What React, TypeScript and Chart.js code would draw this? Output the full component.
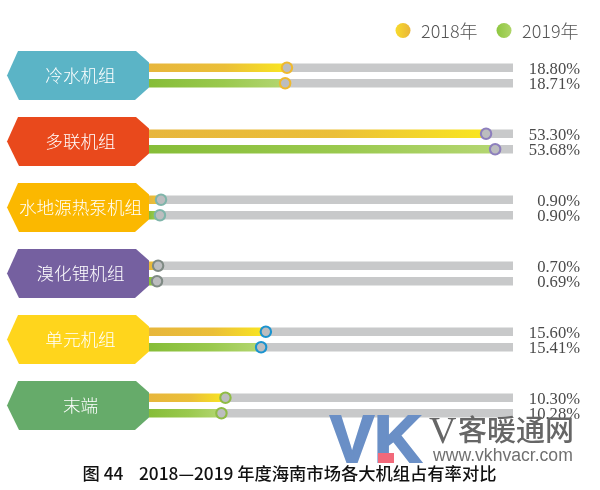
import React, { useEffect, useRef } from "react";
import { Chart, registerables } from "chart.js";

Chart.register(...registerables);

const categories = ["冷水机组", "多联机组", "水地源热泵机组", "溴化锂机组", "单元机组", "末端"];
const labels2018 = ["18.80%", "53.30%", "0.90%", "0.70%", "15.60%", "10.30%"];
const labels2019 = ["18.71%", "53.68%", "0.90%", "0.69%", "15.41%", "10.28%"];
// The reference's bars are not proportional to their printed labels, so the
// bar lengths are read off the picture as a share of the grey track.
const track2018 = [37.9, 92.6, 3.3, 2.5, 32.1, 21.0];
const track2019 = [37.4, 95.1, 3.0, 2.2, 30.8, 19.9];
const trackMax = 100;
const tagColors = ["#5bb4c6", "#e9491c", "#fbb800", "#7560a0", "#ffd51c", "#66ab6a"];
const ringColors = ["#efb92f", "#8d7fbd", "#7fb5aa", "#7f8a84", "#1b93cf", "#8fbc46"];
const seriesNames = ["2018年", "2019年"];
const caption = "图 44    2018—2019 年度海南市场各大机组占有率对比";

const TRACK = "#c8c9ca";
const SANS = '"Noto Sans CJK SC", "Noto Sans", sans-serif';
const SERIF = '"Liberation Serif", serif';

function barGradient(ctx: any, from: string, mid: string, to: string) {
  const chart = ctx.chart;
  const x = chart.scales && chart.scales.x;
  const value = ctx.raw;
  if (!x || !Number.isFinite(x.left) || typeof value !== "number") return from;
  const left = x.getPixelForValue(0);
  const right = x.getPixelForValue(value);
  if (!Number.isFinite(left) || !Number.isFinite(right)) return from;
  const g = chart.ctx.createLinearGradient(left, 0, Math.max(right, left + 1), 0);
  g.addColorStop(0, from);
  g.addColorStop(0.55, mid);
  g.addColorStop(1, to);
  return g;
}

const decor = {
  id: "decor",
  afterDatasetsDraw(chart: any) {
    const c = chart.ctx;
    const x = chart.scales.x;
    const y = chart.scales.y;
    // bar-end markers
    [0, 2].forEach((ds) => {
      chart.getDatasetMeta(ds).data.forEach((el: any, i: number) => {
        c.beginPath();
        c.arc(el.x, el.y, 5.2, 0, Math.PI * 2);
        c.fillStyle = "#bcbdbf";
        c.fill();
        c.lineWidth = 2.1;
        c.strokeStyle = ringColors[i];
        c.stroke();
      });
    });
    // category tags, value labels
    categories.forEach((name, i) => {
      const cy = y.getPixelForValue(i);
      const r = x.left;
      c.beginPath();
      c.moveTo(r - 131, cy - 24.5);
      c.lineTo(r - 13, cy - 24.5);
      c.lineTo(r, cy - 13);
      c.lineTo(r, cy + 12);
      c.lineTo(r - 14, cy + 24.5);
      c.lineTo(r - 130, cy + 24.5);
      c.lineTo(r - 142, cy);
      c.closePath();
      c.fillStyle = tagColors[i];
      c.fill();
      c.fillStyle = "#ffffff";
      c.font = `300 17.6px ${SANS}`;
      c.textAlign = "center";
      c.textBaseline = "middle";
      c.fillText(name, r - 68.5, cy - 0.5);

      c.fillStyle = "#4a4a4a";
      c.font = `16.6px ${SERIF}`;
      c.textAlign = "right";
      c.fillText(labels2018[i], 580, cy - 6);
      c.fillText(labels2019[i], 580, cy + 9.5);
    });
    // legend
    const swatch = (cx: number, from: string, to: string) => {
      const g = c.createLinearGradient(cx - 8, 0, cx + 8, 0);
      g.addColorStop(0, from);
      g.addColorStop(1, to);
      c.beginPath();
      c.arc(cx, 30.5, 7.5, 0, Math.PI * 2);
      c.fillStyle = g;
      c.fill();
    };
    swatch(403, "#f8dc2c", "#e9b43a");
    swatch(504, "#8dc63f", "#b0d56a");
    c.fillStyle = "#555555";
    c.font = `300 18px ${SANS}`;
    c.textAlign = "left";
    c.fillText(seriesNames[0], 421, 31);
    c.fillText(seriesNames[1], 522, 31);
    // watermark
    c.textAlign = "left";
    c.textBaseline = "alphabetic";
    c.fillStyle = "#6a8fc6";
    c.strokeStyle = "#6a8fc6";
    c.lineWidth = 2;
    c.lineJoin = "miter";
    c.font = `bold 66px "Liberation Sans", sans-serif`;
    c.fillText("VK", 330, 462);
    c.strokeText("VK", 330, 462);
    c.fillStyle = "#f2697a";
    c.fillRect(378, 453, 16, 10);
    c.fillStyle = "#666666";
    c.font = `38px ${SERIF}`;
    c.fillText("V", 429, 443);
    c.font = `500 29px ${SANS}`;
    c.fillText("客暖通网", 458, 441);
    c.font = `17.6px "Liberation Sans", sans-serif`;
    c.fillStyle = "#707070";
    c.fillText("www.vkhvacr.com", 433, 461);
    // caption
    c.fillStyle = "#111111";
    c.font = `500 17.3px ${SANS}`;
    c.textAlign = "center";
    c.textBaseline = "middle";
    c.fillText(caption, 289.5, 473);
  },
};

export default function App() {
  const ref = useRef<HTMLCanvasElement | null>(null);
  useEffect(() => {
    if (!ref.current) return;
    const chart = new Chart(ref.current, {
      type: "bar",
      data: {
        labels: categories,
        datasets: [
          {
            label: seriesNames[0],
            data: track2018,
            stack: "a",
            backgroundColor: (ctx: any) => barGradient(ctx, "#e7b63c", "#ebbf38", "#f9e621"),
          },
          {
            label: "track 2018",
            data: track2018.map((v) => trackMax - v),
            stack: "a",
            backgroundColor: TRACK,
          },
          {
            label: seriesNames[1],
            data: track2019,
            stack: "b",
            backgroundColor: (ctx: any) => barGradient(ctx, "#86bd38", "#9ac94e", "#b4d672"),
          },
          {
            label: "track 2019",
            data: track2019.map((v) => trackMax - v),
            stack: "b",
            backgroundColor: TRACK,
          },
        ],
      },
      options: {
        indexAxis: "y",
        animation: false,
        responsive: false,
        maintainAspectRatio: false,
        layout: { padding: { left: 149, right: 87, top: 42.5, bottom: 51.5 } },
        datasets: { bar: { categoryPercentage: 0.47, barPercentage: 0.56 } },
        plugins: { legend: { display: false }, tooltip: { enabled: false } },
        scales: {
          x: { display: false, stacked: true, min: 0, max: trackMax },
          y: { display: false, stacked: true },
        },
      } as any,
      plugins: [decor],
    });
    return () => chart.destroy();
  }, []);
  return (
    <div style={{ position: "absolute", left: 0, top: 0, width: 600, height: 490, background: "#fff" }}>
      <canvas ref={ref} width={600} height={490} style={{ display: "block" }} />
    </div>
  );
}
